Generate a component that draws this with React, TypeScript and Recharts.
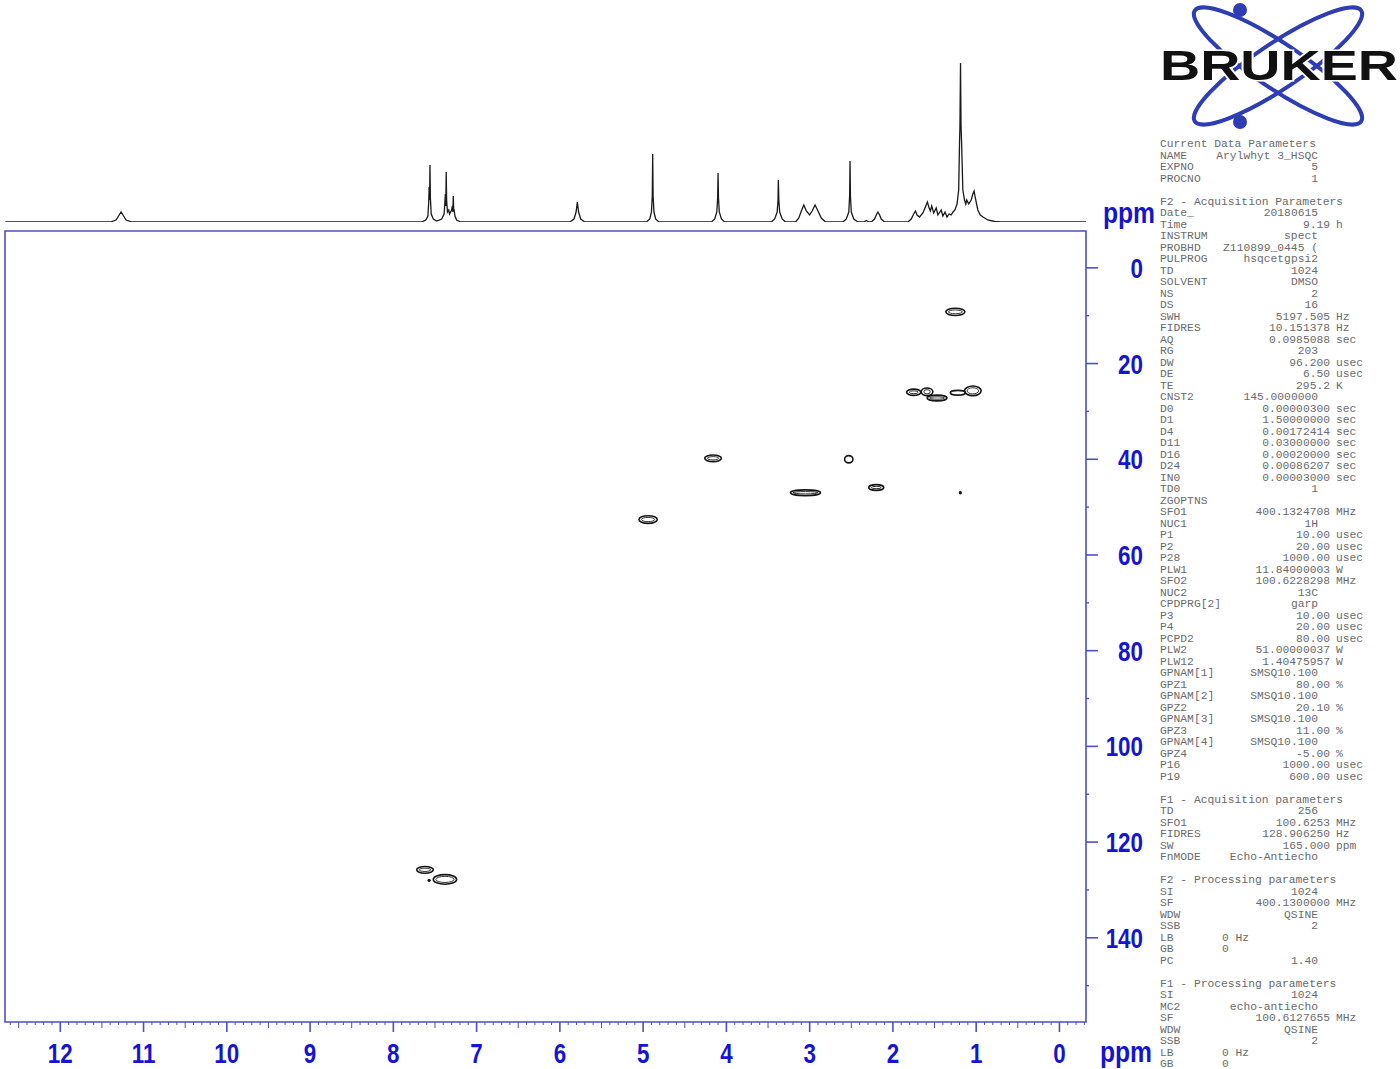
import React from 'react';
import { ComposedChart, LineChart, Line, XAxis, YAxis, ReferenceArea } from 'recharts';

// 1H projection trace (F2), vertices: [ppm, intensity]
const protonTrace: [number, number][] = [
  [12.66, 0],
  [11.40, 0], [11.33, 2], [11.30, 6], [11.27, 10], [11.24, 6], [11.21, 2], [11.14, 0],
  [7.66, 0], [7.61, 2], [7.585, 6], [7.575, 20], [7.57, 35], [7.565, 22], [7.56, 57], [7.555, 24], [7.545, 8], [7.52, 3], [7.48, 1],
  [7.42, 3], [7.39, 8], [7.375, 28], [7.37, 16], [7.365, 50], [7.36, 22], [7.35, 10], [7.335, 12], [7.325, 8], [7.30, 12], [7.29, 16], [7.285, 10], [7.28, 26], [7.275, 12], [7.27, 12], [7.26, 6], [7.24, 2], [7.19, 0],
  [5.88, 0], [5.83, 3], [5.805, 10], [5.79, 20], [5.775, 10], [5.75, 3], [5.70, 0],
  [4.96, 0], [4.92, 3], [4.90, 10], [4.89, 26], [4.885, 68], [4.88, 26], [4.87, 10], [4.85, 3], [4.81, 0],
  [4.18, 0], [4.14, 3], [4.115, 10], [4.105, 24], [4.10, 49], [4.095, 24], [4.085, 10], [4.06, 3], [4.02, 0],
  [3.46, 0], [3.42, 3], [3.39, 10], [3.38, 22], [3.376, 42], [3.37, 22], [3.36, 10], [3.33, 3], [3.29, 0],
  [3.17, 0], [3.13, 4], [3.10, 11], [3.07, 17], [3.04, 11], [3.00, 7], [2.97, 11], [2.935, 17], [2.90, 11], [2.86, 4], [2.81, 0],
  [2.60, 0], [2.56, 3], [2.53, 10], [2.52, 26], [2.515, 61], [2.51, 26], [2.50, 10], [2.47, 3], [2.42, 0],
  [2.35, 0], [2.32, 1.5], [2.29, 0],
  [2.26, 0], [2.22, 3], [2.20, 7], [2.18, 10], [2.16, 7], [2.14, 3], [2.10, 0],
  [1.82, 0], [1.78, 3], [1.75, 8], [1.73, 11], [1.71, 7], [1.68, 5], [1.64, 9], [1.61, 15], [1.586, 20], [1.565, 14], [1.55, 11],
  [1.534, 16], [1.51, 9], [1.48, 14], [1.46, 7], [1.42, 12], [1.40, 6], [1.374, 10], [1.35, 5], [1.326, 8], [1.30, 7], [1.278, 10],
  [1.255, 12], [1.23, 18], [1.21, 32], [1.20, 79], [1.195, 96], [1.188, 159], [1.182, 96], [1.175, 79], [1.16, 32], [1.14, 22],
  [1.125, 18], [1.113, 22], [1.09, 18], [1.06, 22], [1.04, 28], [1.025, 31], [1.01, 24], [0.98, 12], [0.95, 7], [0.918, 5],
  [0.86, 2], [0.78, 0.5], [0.71, 0],
  [-0.32, 0],
];

// HSQC cross peaks: 1H shift, 13C shift and contour half-extents (ppm)
const crossPeaks = [
  { h: 1.25, c: 9.2, dh: 0.115, dc: 0.75 },
  { h: 1.75, c: 26.0, dh: 0.085, dc: 0.65 },
  { h: 1.59, c: 25.9, dh: 0.07, dc: 0.8 },
  { h: 1.47, c: 27.2, dh: 0.12, dc: 0.6 },
  { h: 1.22, c: 26.1, dh: 0.09, dc: 0.5 },
  { h: 1.04, c: 25.7, dh: 0.1, dc: 1.0 },
  { h: 1.19, c: 47.0, dh: 0.015, dc: 0.35 },
  { h: 2.2, c: 45.9, dh: 0.09, dc: 0.6 },
  { h: 4.16, c: 39.8, dh: 0.1, dc: 0.7 },
  { h: 2.53, c: 40.0, dh: 0.05, dc: 0.75 },
  { h: 3.05, c: 47.0, dh: 0.18, dc: 0.6 },
  { h: 4.94, c: 52.6, dh: 0.11, dc: 0.8 },
  { h: 7.62, c: 125.8, dh: 0.1, dc: 0.7 },
  { h: 7.38, c: 127.8, dh: 0.14, dc: 1.0 },
  { h: 7.57, c: 128.0, dh: 0.015, dc: 0.3 },
];

const F2_RANGE: [number, number] = [-0.319, 12.664];
const F1_RANGE: [number, number] = [-7.7, 157.6];
const f2Labels = [0, 1, 2, 3, 4, 5, 6, 7, 8, 9, 10, 11, 12];
const f2Ticks = Array.from({ length: 130 }, (_, i) => Math.round(-3 + i) / 10);
const f1Ticks = [0, 10, 20, 30, 40, 50, 60, 70, 80, 90, 100, 110, 120, 130, 140, 150];

// acquisition / processing listing: [label, value, unit, align]
type Row = string | [string, string, string?, string?] | null;
const paramRows: Row[] = [
  'Current Data Parameters',
  ['NAME', 'Arylwhyt 3_HSQC'],
  ['EXPNO', '5'],
  ['PROCNO', '1'],
  null,
  'F2 - Acquisition Parameters',
  ['Date_', '20180615'],
  ['Time', '9.19', 'h'],
  ['INSTRUM', 'spect'],
  ['PROBHD', 'Z110899_0445 ('],
  ['PULPROG', 'hsqcetgpsi2'],
  ['TD', '1024'],
  ['SOLVENT', 'DMSO'],
  ['NS', '2'],
  ['DS', '16'],
  ['SWH', '5197.505', 'Hz'],
  ['FIDRES', '10.151378', 'Hz'],
  ['AQ', '0.0985088', 'sec'],
  ['RG', '203'],
  ['DW', '96.200', 'usec'],
  ['DE', '6.50', 'usec'],
  ['TE', '295.2', 'K'],
  ['CNST2', '145.0000000'],
  ['D0', '0.00000300', 'sec'],
  ['D1', '1.50000000', 'sec'],
  ['D4', '0.00172414', 'sec'],
  ['D11', '0.03000000', 'sec'],
  ['D16', '0.00020000', 'sec'],
  ['D24', '0.00086207', 'sec'],
  ['IN0', '0.00003000', 'sec'],
  ['TD0', '1'],
  ['ZGOPTNS', ''],
  ['SFO1', '400.1324708', 'MHz'],
  ['NUC1', '1H'],
  ['P1', '10.00', 'usec'],
  ['P2', '20.00', 'usec'],
  ['P28', '1000.00', 'usec'],
  ['PLW1', '11.84000003', 'W'],
  ['SFO2', '100.6228298', 'MHz'],
  ['NUC2', '13C'],
  ['CPDPRG[2]', 'garp'],
  ['P3', '10.00', 'usec'],
  ['P4', '20.00', 'usec'],
  ['PCPD2', '80.00', 'usec'],
  ['PLW2', '51.00000037', 'W'],
  ['PLW12', '1.40475957', 'W'],
  ['GPNAM[1]', 'SMSQ10.100'],
  ['GPZ1', '80.00', '%'],
  ['GPNAM[2]', 'SMSQ10.100'],
  ['GPZ2', '20.10', '%'],
  ['GPNAM[3]', 'SMSQ10.100'],
  ['GPZ3', '11.00', '%'],
  ['GPNAM[4]', 'SMSQ10.100'],
  ['GPZ4', '-5.00', '%'],
  ['P16', '1000.00', 'usec'],
  ['P19', '600.00', 'usec'],
  null,
  'F1 - Acquisition parameters',
  ['TD', '256'],
  ['SFO1', '100.6253', 'MHz'],
  ['FIDRES', '128.906250', 'Hz'],
  ['SW', '165.000', 'ppm'],
  ['FnMODE', 'Echo-Antiecho'],
  null,
  'F2 - Processing parameters',
  ['SI', '1024'],
  ['SF', '400.1300000', 'MHz'],
  ['WDW', 'QSINE'],
  ['SSB', '2'],
  ['LB', '0 Hz', '', 'left'],
  ['GB', '0', '', 'left'],
  ['PC', '1.40'],
  null,
  'F1 - Processing parameters',
  ['SI', '1024'],
  ['MC2', 'echo-antiecho'],
  ['SF', '100.6127655', 'MHz'],
  ['WDW', 'QSINE'],
  ['SSB', '2'],
  ['LB', '0 Hz', '', 'left'],
  ['GB', '0', '', 'left'],
];

const FRAME = '#4e4ec6';
const BLUE = '#1414d2';
const LABEL_FONT = '"Liberation Sans", Arial, sans-serif';

const specData = protonTrace.map(([ppm, i]) => ({ ppm, i }));

function F2Tick(props: any) {
  const { x, y, payload } = props;
  const v = payload.value as number;
  const r = Math.round(v * 10);
  const major = r % 10 === 0;
  const len = major ? 10 : r % 5 === 0 ? 6 : 3;
  const showLabel = major && f2Labels.includes(Math.round(v));
  return (
    <g>
      <line x1={x} x2={x} y1={y} y2={y + len} stroke={FRAME} strokeWidth={major ? 1.6 : 1} />
      {showLabel && (
        <text
          transform={`translate(${x},${y + 41}) scale(0.8,1)`}
          textAnchor="middle"
          fill={BLUE}
          fontFamily={LABEL_FONT}
          fontWeight="bold"
          fontSize={28}
        >
          {Math.round(v)}
        </text>
      )}
    </g>
  );
}

function F1Tick(props: any) {
  const { x, y, payload } = props;
  const v = payload.value as number;
  const major = v % 20 === 0;
  return (
    <g>
      <line x1={x} x2={x + (major ? 12 : 3)} y1={y} y2={y} stroke={FRAME} strokeWidth={major ? 1.6 : 1.4} />
      {major && (
        <text
          transform={`translate(${x + 57},${y + 10}) scale(0.8,1)`}
          textAnchor="end"
          fill={BLUE}
          fontFamily={LABEL_FONT}
          fontWeight="bold"
          fontSize={28}
        >
          {v}
        </text>
      )}
    </g>
  );
}

function contour(p: any) {
  const rx = p.width / 2;
  const ry = p.height / 2;
  const cx = p.x + rx;
  const cy = p.y + ry;
  if (p.width < 5) return <ellipse cx={cx} cy={cy} rx={Math.max(rx, 1.6)} ry={Math.max(ry, 1.6)} fill="#111" />;
  return (
    <g>
      <ellipse cx={cx} cy={cy} rx={rx} ry={ry} fill="none" stroke="#151515" strokeWidth={1.6} />
      {rx > 5 && ry > 2.5 && (
        <ellipse cx={cx} cy={cy} rx={rx - 2.6} ry={ry - 1.7} fill="none" stroke="#333" strokeWidth={1} />
      )}
    </g>
  );
}

function BrukerLogo() {
  return (
    <g>
      <ellipse cx={1278} cy={66} rx={100} ry={22.7} fill="none" stroke="#2f3db4" strokeWidth={4} transform="rotate(33.7 1278 66)" />
      <ellipse cx={1278} cy={66} rx={100} ry={22.7} fill="none" stroke="#2f3db4" strokeWidth={4} transform="rotate(-33.7 1278 66)" />
      <circle cx={1240} cy={10} r={7} fill="#2f3db4" />
      <circle cx={1240} cy={122} r={7} fill="#2f3db4" />
      <text
        x={1160}
        y={80}
        textLength={238}
        lengthAdjust="spacingAndGlyphs"
        fontFamily={LABEL_FONT}
        fontWeight="bold"
        fontSize={42}
        fill="#111"
        stroke="#fff"
        strokeWidth={3}
        paintOrder="stroke"
      >
        BRUKER
      </text>
    </g>
  );
}

function ParamList() {
  const mono = '"Liberation Mono", "DejaVu Sans Mono", monospace';
  return (
    <g fontFamily={mono} fontSize={11.3} fill="#6b6b6b">
      {paramRows.map((row, n) => {
        const y = 147 + n * 11.5;
        if (row === null) return null;
        if (typeof row === 'string')
          return (
            <text key={n} x={1160} y={y}>
              {row}
            </text>
          );
        const [label, value, unit, align] = row;
        return (
          <g key={n}>
            <text x={1160} y={y}>{label}</text>
            {align === 'left' ? (
              <text x={1222} y={y}>{value}</text>
            ) : (
              <text x={unit ? 1330 : 1318} y={y} textAnchor="end">{value}</text>
            )}
            {unit && <text x={1336} y={y}>{unit}</text>}
          </g>
        );
      })}
    </g>
  );
}

export default function App() {
  return (
    <div style={{ position: 'absolute', left: 0, top: 0, width: 1400, height: 1069, background: '#fff', overflow: 'hidden' }}>
      <div style={{ position: 'absolute', left: 0, top: 0 }}>
        <LineChart width={1150} height={226} data={specData} margin={{ top: 62, right: 64, left: 5, bottom: 4 }}>
          <XAxis dataKey="ppm" type="number" domain={F2_RANGE} reversed hide allowDataOverflow />
          <YAxis type="number" domain={[0, 160]} hide allowDataOverflow />
          <Line type="linear" dataKey="i" stroke="#1a1a1a" strokeWidth={1.3} dot={false} isAnimationActive={false} />
        </LineChart>
      </div>
      <div style={{ position: 'absolute', left: 0, top: 0 }}>
        <ComposedChart width={1150} height={1069} margin={{ top: 231, right: 0, left: 5, bottom: 0 }}>
          <XAxis
            type="number"
            dataKey="h"
            domain={F2_RANGE}
            reversed
            allowDataOverflow
            ticks={f2Ticks}
            interval={0}
            height={47}
            axisLine={false}
            tickLine={false}
            tickSize={0}
            tickMargin={0}
            tick={F2Tick}
          />
          <YAxis
            type="number"
            dataKey="c"
            orientation="right"
            domain={F1_RANGE}
            reversed
            allowDataOverflow
            ticks={f1Ticks}
            interval={0}
            width={64}
            axisLine={false}
            tickLine={false}
            tickSize={0}
            tickMargin={0}
            tick={F1Tick}
          />
          {crossPeaks.map((p, k) => (
            <ReferenceArea
              key={k}
              x1={p.h - p.dh}
              x2={p.h + p.dh}
              y1={p.c - p.dc}
              y2={p.c + p.dc}
              ifOverflow="visible"
              shape={contour}
            />
          ))}
          <ReferenceArea
            x1={F2_RANGE[0]}
            x2={F2_RANGE[1]}
            y1={F1_RANGE[0]}
            y2={F1_RANGE[1]}
            ifOverflow="visible"
            fill="none"
            fillOpacity={0}
            stroke={FRAME}
            strokeWidth={1.6}
          />
        </ComposedChart>
      </div>
      <svg width={1400} height={1069} style={{ position: 'absolute', left: 0, top: 0, pointerEvents: 'none' }}>
        <text transform="translate(1103,223) scale(0.85,1)" fill={BLUE} fontFamily={LABEL_FONT} fontWeight="bold" fontSize={29}>
          ppm
        </text>
        <text transform="translate(1100,1062) scale(0.85,1)" fill={BLUE} fontFamily={LABEL_FONT} fontWeight="bold" fontSize={29}>
          ppm
        </text>
        <BrukerLogo />
        <ParamList />
      </svg>
    </div>
  );
}
